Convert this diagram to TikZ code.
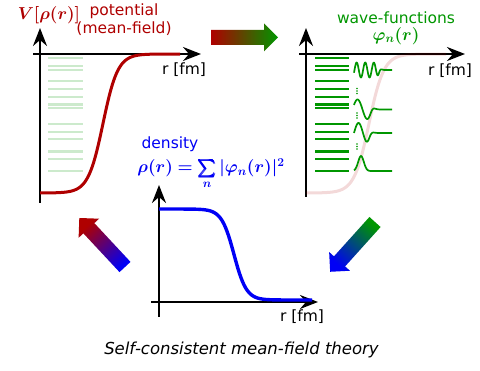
\documentclass[tikz,border=0pt]{standalone}
\usepackage{amsmath}
\usepackage{bm}
\usepackage{fontspec}
\setmainfont{DejaVu Sans}
\usepackage{tikz}
\usetikzlibrary{arrows.meta}
\definecolor{potred}{RGB}{175,0,0}
\definecolor{wfgreen}{RGB}{0,150,0}
\definecolor{denblue}{RGB}{0,0,245}
\tikzstyle{corner} = [coordinate]
\tikzstyle{axisend} = [coordinate]
\tikzstyle{axis} = [line width=2.2pt, -{Stealth[length=18pt,width=14pt,inset=6pt]}]
\tikzstyle{potcurve} = [line width=3pt, potred]
\tikzstyle{ghostcurve} = [line width=3pt, potred, opacity=0.15]
\tikzstyle{dencurve} = [line width=3.4pt, denblue]
\tikzstyle{levelfaint} = [line width=2.2pt, wfgreen!20]
\tikzstyle{level} = [line width=2.2pt, wfgreen]
\tikzstyle{wave} = [line width=1.7pt, wfgreen]
\tikzstyle{txt} = [inner sep=0pt, font=\fontsize{15.5}{18}\selectfont]
\tikzstyle{mth} = [inner sep=0pt, font=\fontsize{16.5}{19}\selectfont]

\begin{document}
\begin{tikzpicture}[x=1pt, y=-1pt, line join=round,
    declare function={fermi(\t,\r,\a)=1/(1+exp(max(-9,min(9,(\t-\r)/\a))));}]
\useasboundingbox (0,0) rectangle (480,371);
% Nodes
	\node [corner] (o1) at (40,54) {};
	\node [axisend, left of=o1, node distance=7pt] (x1s) {};
	\node [axisend, right of=o1, node distance=161pt] (x1e) {};
	\node [axisend, below of=o1, node distance=149pt] (y1s) {};
	\node [axisend, above of=o1, node distance=26pt] (y1e) {};
	\node [corner] (o2) at (306,54) {};
	\node [axisend, left of=o2, node distance=7pt] (x2s) {};
	\node [axisend, right of=o2, node distance=159pt] (x2e) {};
	\node [axisend, below of=o2, node distance=143pt] (y2s) {};
	\node [axisend, above of=o2, node distance=26pt] (y2e) {};
	\node [corner] (o3) at (159,302) {};
	\node [axisend, left of=o3, node distance=8pt] (x3s) {};
	\node [axisend, right of=o3, node distance=159pt] (x3e) {};
	\node [axisend, below of=o3, node distance=15pt] (y3s) {};
	\node [axisend, above of=o3, node distance=117pt] (y3e) {};
	\node [corner] (arrA) at (211,37.5) {};
	\node [corner] (arrB) at (375,222) {};
	\node [corner] (arrC) at (125,267) {};
% Levels
	\foreach \ly in {58,66,70,81,89,97,104.5,108,124,132,139,151.5,159,171} {
		\draw [levelfaint] (48,\ly) -- (83,\ly);
		\draw [level] (315,\ly) -- (349,\ly);
	}
% Axes
	\draw [axis] (x1s) -- (x1e);
	\draw [axis] (y1s) -- (y1e);
	\draw [axis] (x2s) -- (x2e);
	\draw [axis] (y2s) -- (y2e);
	\draw [axis] (x3s) -- (x3e);
	\draw [axis] (y3s) -- (y3e);
% Curves
	\draw [potcurve] plot [domain=40:180, samples=100] (\x, {54+139*fermi(\x,103,7.4)});
	\draw [ghostcurve] plot [domain=306:446, samples=100] (\x, {54+139*fermi(\x,369,7.4)});
	\draw [dencurve] plot [domain=159:312, samples=100] (\x, {300-91*fermi(\x,234,6.2)});
	\draw [wave] plot [domain=354:392, samples=150] (\x, {70-7.5*sin(360*(\x-354.5)/8.6)*fermi(\x,379,1.2)});
	\draw [wave] plot [domain=354:392, samples=100] (\x, {109.5-10*sin(360*(\x-352.5)/20)*fermi(\x,372,1.5)});
	\draw [wave] plot [domain=354:392, samples=100] (\x, {133-10*sin(360*(\x-354)/18)*fermi(\x,370,1.5)});
	\draw [wave] plot [domain=354:392, samples=100] (\x, {171-15*exp(max(-9,-((\x-361)/4)*((\x-361)/4)))});
	\foreach \dy in {88.5,91,93.5,113,115.5,118,144,146.5,149}
		\fill [wfgreen] (357,\dy) circle (0.8);
% Connections
	\foreach \tail/\ang/\sang/\tipc/\tailc in {arrA/0/-90/wfgreen/potred, arrB/228/138/denblue/wfgreen, arrC/133/43/potred/denblue}
		\shade [top color=\tipc, bottom color=\tailc, shading angle=\sang, shift={(\tail)}, rotate=\ang]
			(0,-7.5) -- (53,-7.5) -- (53,-14) -- (67,0) -- (53,14) -- (53,7.5) -- (0,7.5) -- cycle;
% Notations
	\node [mth, potred] (Vlabel) at (49,15) {$\boldsymbol{V[\rho(r)]}$};
	\node [txt, potred] (potlabel) at (124,11) {potential};
	\node [txt, potred, below of=potlabel, node distance=17.5pt] (mflabel) {(mean-field)};
	\node [txt] (r1) at (184,70) {r [fm]};
	\node [txt] (r2) at (450,71) {r [fm]};
	\node [txt] (r3) at (302,317) {r [fm]};
	\node [txt, wfgreen] (wflabel) at (396,18) {wave-functions};
	\node [mth, wfgreen, below of=wflabel, node distance=18pt] (philabel) {$\boldsymbol{\varphi_n(r)}$};
	\node [txt, denblue] (denlabel) at (170,144) {density};
	\node [mth, denblue, anchor=base] (rholabel) at (211,173) {$\boldsymbol{\rho(r)=\sum\limits_{n}|\varphi_n(r)|^2}$};
	\node [txt, font=\fontsize{16.5}{20}\selectfont\itshape] (title) at (241.5,350) {Self-consistent mean-field theory};
\end{tikzpicture}
\end{document}
